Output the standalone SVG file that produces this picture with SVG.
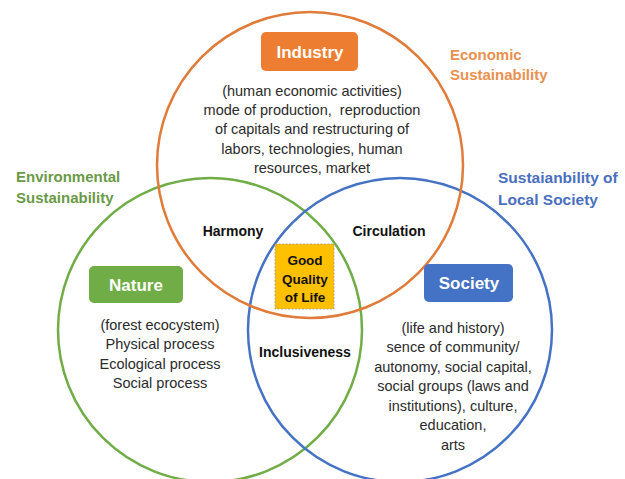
<svg xmlns="http://www.w3.org/2000/svg" width="625" height="479" viewBox="0 0 625 479">
<style>
.c{fill:none;stroke-width:2.5}
.t{font-family:"Liberation Sans",Arial,sans-serif;font-size:14.5px;fill:#2b2b2b;text-anchor:middle}
.b{font-family:"Liberation Sans",Arial,sans-serif;font-weight:bold;text-anchor:middle}
.k{font-size:14px;fill:#111}
.h{font-size:17px;fill:#fff}
.s{font-size:15px;text-anchor:start}
</style>
<rect width="625" height="479" fill="#fff"/>
<g id="circles">
<circle class="c" cx="210" cy="330" r="152" stroke="#70AD47"/>
<circle class="c" cx="400" cy="330" r="152" stroke="#4472C4"/>
<circle class="c" cx="310" cy="165" r="153" stroke="#E07B39"/>
</g>
<g id="industry">
<rect x="261" y="32" width="97" height="39" rx="5" fill="#ED7D31"/>
<text class="b h" x="310" y="58">Industry</text>
<text class="t" x="312" y="96">(human economic activities)</text>
<text class="t" x="312" y="115">mode of production,&#160; reproduction</text>
<text class="t" x="312" y="134">of capitals and restructuring of</text>
<text class="t" x="312" y="154">labors, technologies, human</text>
<text class="t" x="312" y="173">resources, market</text>
</g>
<g id="nature">
<rect x="89" y="266" width="94" height="37" rx="5" fill="#70AD47"/>
<text class="b h" x="136" y="291">Nature</text>
<text class="t" x="160" y="330">(forest ecocystem)</text>
<text class="t" x="160" y="349">Physical process</text>
<text class="t" x="160" y="369">Ecological process</text>
<text class="t" x="160" y="388">Social process</text>
</g>
<g id="society">
<rect x="424" y="264" width="89" height="38" rx="5" fill="#4472C4"/>
<text class="b h" x="469" y="289">Society</text>
<text class="t" x="453" y="333">(life and history)</text>
<text class="t" x="453" y="352">sence of community/</text>
<text class="t" x="453" y="372">autonomy, social capital,</text>
<text class="t" x="453" y="391">social groups (laws and</text>
<text class="t" x="453" y="411">institutions), culture,</text>
<text class="t" x="453" y="430">education,</text>
<text class="t" x="453" y="450">arts</text>
</g>
<g id="labels">
<text class="b s" x="450" y="60" fill="#E8914F">Economic</text>
<text class="b s" x="450" y="80" fill="#E8914F">Sustainability</text>
<text class="b s" x="16" y="182" fill="#6A9A46">Environmental</text>
<text class="b s" x="16" y="203" fill="#6A9A46">Sustainability</text>
<text class="b s" x="498" y="183" fill="#4A6FBE" style="font-size:15.5px">Sustaianbility of</text>
<text class="b s" x="498" y="205" fill="#4A6FBE" style="font-size:15.5px">Local Society</text>
<text class="b k" x="233" y="236">Harmony</text>
<text class="b k" x="389" y="236">Circulation</text>
<text class="b k" x="305" y="357">Inclusiveness</text>
</g>
<g id="goodlife">
<rect x="275" y="244" width="59" height="65" fill="#FFC000" stroke="#999" stroke-width="0.8" stroke-dasharray="2,1.5"/>
<text class="b" x="305" y="265" style="font-size:13.5px;fill:#111">Good</text>
<text class="b" x="305" y="284" style="font-size:13.5px;fill:#111">Quality</text>
<text class="b" x="305" y="302" style="font-size:13.5px;fill:#111">of Life</text>
</g>
</svg>
